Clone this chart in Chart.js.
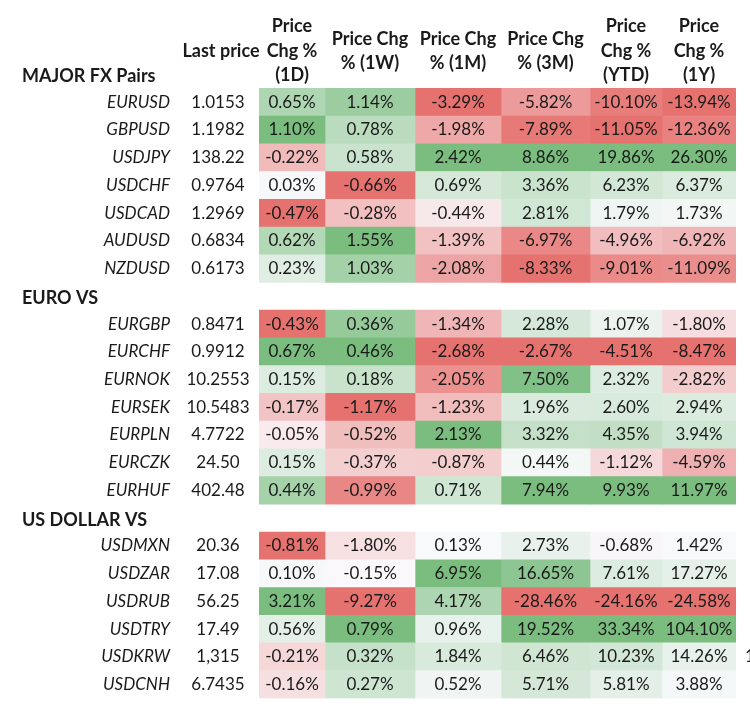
<!DOCTYPE html>
<html>
<head>
<meta charset="utf-8">
<script src="https://cdn.jsdelivr.net/npm/chart.js@4.4.1/dist/chart.umd.min.js"></script>
<style>
  html, body { margin: 0; padding: 0; background: #fff; }
  #wrap { width: 750px; height: 712px; position: relative; }
</style>
</head>
<body>
<div id="wrap"><canvas id="chart"></canvas></div>
<script>
// --- data ---
const groupNames = ['MAJOR FX Pairs', 'EURO VS', 'US DOLLAR VS'];
const majorPairs = ['EURUSD', 'GBPUSD', 'USDJPY', 'USDCHF', 'USDCAD', 'AUDUSD', 'NZDUSD'];
const euroPairs = ['EURGBP', 'EURCHF', 'EURNOK', 'EURSEK', 'EURPLN', 'EURCZK', 'EURHUF'];
const usdPairs = ['USDMXN', 'USDZAR', 'USDRUB', 'USDTRY', 'USDKRW', 'USDCNH'];

const lastPrice = [
  '1.0153', '1.1982', '138.22', '0.9764', '1.2969', '0.6834', '0.6173',
  '0.8471', '0.9912', '10.2553', '10.5483', '4.7722', '24.50', '402.48',
  '20.36', '17.08', '56.25', '17.49', '1,315', '6.7435'
];

const colHeaders = [
  ['Price', 'Chg %', '(1D)'],
  ['Price Chg', '% (1W)'],
  ['Price Chg', '% (1M)'],
  ['Price Chg', '% (3M)'],
  ['Price', 'Chg %', '(YTD)'],
  ['Price', 'Chg %', '(1Y)']
];

const chg1D = [0.65, 1.10, -0.22, 0.03, -0.47, 0.62, 0.23,
  -0.43, 0.67, 0.15, -0.17, -0.05, 0.15, 0.44,
  -0.81, 0.10, 3.21, 0.56, -0.21, -0.16];
const chg1W = [1.14, 0.78, 0.58, -0.66, -0.28, 1.55, 1.03,
  0.36, 0.46, 0.18, -1.17, -0.52, -0.37, -0.99,
  -1.80, -0.15, -9.27, 0.79, 0.32, 0.27];
const chg1M = [-3.29, -1.98, 2.42, 0.69, -0.44, -1.39, -2.08,
  -1.34, -2.68, -2.05, -1.23, 2.13, -0.87, 0.71,
  0.13, 6.95, 4.17, 0.96, 1.84, 0.52];
const chg3M = [-5.82, -7.89, 8.86, 3.36, 2.81, -6.97, -8.33,
  2.28, -2.67, 7.50, 1.96, 3.32, 0.44, 7.94,
  2.73, 16.65, -28.46, 19.52, 6.46, 5.71];
const chgYTD = [-10.10, -11.05, 19.86, 6.23, 1.79, -4.96, -9.01,
  1.07, -4.51, 2.32, 2.60, 4.35, -1.12, 9.93,
  -0.68, 7.61, -24.16, 33.34, 10.23, 5.81];
const chg1Y = [-13.94, -12.36, 26.30, 6.37, 1.73, -6.92, -11.09,
  -1.80, -8.47, -2.82, 2.94, 3.94, -4.59, 11.97,
  1.42, 17.27, -24.58, 104.10, 14.26, 3.88];

const columns = [chg1D, chg1W, chg1M, chg3M, chgYTD, chg1Y];

// --- layout ---
const colWidths = [66, 90, 86, 89, 72, 74];
const FONT = 'Lato, "Open Sans", sans-serif';
const RED = [230, 114, 112];
const GREEN = [122, 189, 127];
const MID = [250, 250, 253];

// build rows: group header slot followed by its pairs
const groups = [majorPairs, euroPairs, usdPairs];
const rows = [];   // {type, label, idx, group}
let k = 0;
groups.forEach((g, gi) => {
  rows.push({ type: 'head', label: groupNames[gi], group: gi });
  g.forEach(p => { rows.push({ type: 'pair', label: p, idx: k++, group: gi }); });
});

const edges = [0];
colWidths.forEach(w => edges.push(edges[edges.length - 1] + w));

function mix(a, b, t) {
  return 'rgb(' + a.map((v, i) => Math.round(v + (b[i] - v) * t)).join(',') + ')';
}

// colour scale per group and column, white at zero
function cellColor(col, row) {
  const vals = rows.filter(r => r.type === 'pair' && r.group === row.group).map(r => col[r.idx]);
  const v = col[row.idx];
  const mx = Math.max(...vals), mn = Math.min(...vals);
  if (v >= 0) return mix(MID, GREEN, mx > 0 ? v / mx : 0);
  return mix(MID, RED, mn < 0 ? v / mn : 0);
}

const datasets = columns.map((col, ci) => ({
  label: colHeaders[ci].join(' '),
  data: rows.map(r => r.type === 'pair' ? [edges[ci], edges[ci + 1]] : null),
  backgroundColor: rows.map(r => r.type === 'pair' ? cellColor(col, r) : 'transparent'),
  borderWidth: 0,
  grouped: false,
  barPercentage: 1,
  categoryPercentage: 1
}));

const tablePlugin = {
  id: 'tableText',
  afterDatasetsDraw(chart) {
    const ctx = chart.ctx;
    const xs = chart.scales.x, ys = chart.scales.y;
    ctx.save();
    ctx.fillStyle = '#1a1a1a';
    ctx.textBaseline = 'middle';

    // header row
    const lh = 24.5, hMid = 51;
    ctx.font = 'bold 18px ' + FONT;
    ctx.textAlign = 'center';
    ctx.fillText('Last price', 221, hMid);
    colHeaders.forEach((lines, ci) => {
      const cx = xs.getPixelForValue((edges[ci] + edges[ci + 1]) / 2);
      const y0 = hMid - (lines.length - 1) * lh / 2;
      lines.forEach((t, li) => ctx.fillText(t, cx, y0 + li * lh));
    });

    rows.forEach((r, ri) => {
      const y = ys.getPixelForValue(ri);
      if (r.type === 'head') {
        ctx.font = 'bold 18px ' + FONT;
        ctx.textAlign = 'left';
        ctx.fillText(r.label, 22, y + 2);
        return;
      }
      ctx.font = 'italic 17px ' + FONT;
      ctx.textAlign = 'right';
      ctx.fillText(r.label, 170, y);
      ctx.font = '17px ' + FONT;
      ctx.textAlign = 'center';
      ctx.fillText(lastPrice[r.idx], 218, y);
      columns.forEach((col, ci) => {
        const cx = xs.getPixelForValue((edges[ci] + edges[ci + 1]) / 2);
        ctx.fillText(col[r.idx].toFixed(2) + '%', cx, y);
      });
      // clipped text at the right edge of the source image
      if (r.label === 'USDKRW') {
        ctx.textAlign = 'left';
        ctx.fillText('1', 745, y);
      }
    });
    ctx.restore();
  }
};

new Chart(document.getElementById('chart'), {
  type: 'bar',
  data: { labels: rows.map(r => r.label), datasets },
  options: {
    indexAxis: 'y',
    responsive: true,
    maintainAspectRatio: false,
    animation: false,
    layout: { padding: { left: 259, right: 14, top: 60.6, bottom: 13.6 } },
    plugins: { legend: { display: false }, tooltip: { enabled: false } },
    scales: {
      x: { type: 'linear', min: 0, max: edges[edges.length - 1], display: false },
      y: { type: 'category', display: false, offset: true }
    }
  },
  plugins: [tablePlugin]
});
</script>
</body>
</html>
